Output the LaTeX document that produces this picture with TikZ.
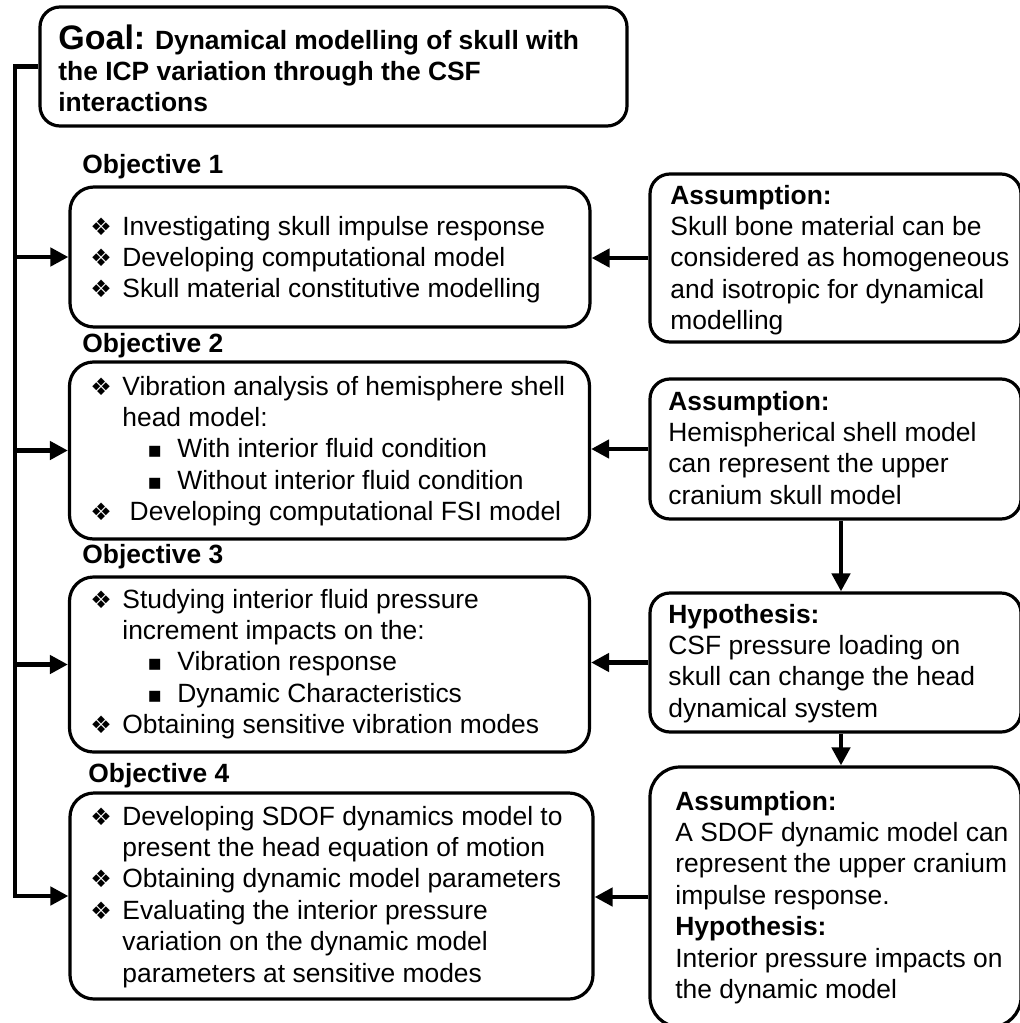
\documentclass[tikz,border=0pt]{standalone}
\usepackage{fontspec}
\setmainfont{Liberation Sans}
\newfontfamily\symfont{DejaVu Sans}
\usetikzlibrary{arrows.meta}

% bullets and line blocks
\newcommand{\dia}{\makebox[16pt][l]{\symfont\fontsize{12}{12}\selectfont ❖}}
\newcommand{\sqb}{\hspace*{28.5pt}\makebox[15pt][l]{\symfont\fontsize{11}{11}\selectfont ▪}}
\newcommand{\ind}{\hspace*{16pt}}
\newcommand{\lines}[1]{\begin{tabular}[t]{@{}l@{}}#1\end{tabular}}

\tikzset{
  box/.style={draw, line width=1.6pt, rounded corners=10pt, inner sep=0pt},
  obox/.style={box, rounded corners=12pt, minimum width=260pt},
  abox/.style={box, minimum width=185.5pt},
  txt/.style={anchor=base west, inner sep=0pt, font=\fontsize{13.2}{15.7}\selectfont},
  head/.style={txt, font=\bfseries\fontsize{13.2}{15.7}\selectfont},
  conn/.style={line width=2.4pt, -{Triangle[length=9pt,width=9pt]}},
}

\begin{document}
\begin{tikzpicture}[x=0.5pt, y=-0.5pt]
\useasboundingbox (0,0) rectangle (1020,1023);

% goal
\node[box, minimum width=293.5pt, minimum height=59.5pt] (goal) at (333.5,66.5) {};
\node[head] (goaltxt) at (58,49) {\lines{{\fontsize{17}{20}\selectfont Goal:} Dynamical modelling of skull with\\the ICP variation through the CSF\\interactions}};

% objectives
\node[head] (lab1) at (82,173) {Objective 1};
\node[obox, minimum height=70pt] (obj1) at (330,257) {};
\node[txt] (txt1) at (90,235) {\lines{\dia Investigating skull impulse response\\
\dia Developing computational model\\
\dia Skull material constitutive modelling}};

\node[head] (lab2) at (82,352) {Objective 2};
\node[obox, minimum height=88.5pt] (obj2) at (329.5,450.5) {};
\node[txt] (txt2) at (90,395) {\lines{\dia Vibration analysis of hemisphere shell\\
\ind head model:\\
\sqb With interior fluid condition\\
\sqb Without interior fluid condition\\
\dia\ Developing computational FSI model}};

\node[head] (lab3) at (82,563) {Objective 3};
\node[obox, minimum height=87.5pt] (obj3) at (329.5,664.5) {};
\node[txt] (txt3) at (90,608) {\lines{\dia Studying interior fluid pressure\\
\ind increment impacts on the:\\
\sqb Vibration response\\
\sqb Dynamic Characteristics\\
\dia Obtaining sensitive vibration modes}};

\node[head] (lab4) at (88,782) {Objective 4};
\node[obox, minimum width=261.5pt, minimum height=103pt] (obj4) at (331.5,896) {};
\node[txt] (txt4) at (90,825) {\lines{\dia Developing SDOF dynamics model to\\
\ind present the head equation of motion\\
\dia Obtaining dynamic model parameters\\
\dia Evaluating the interior pressure\\
\ind variation on the dynamic model\\
\ind parameters at sensitive modes}};

% assumptions and hypotheses
\node[abox, minimum height=84pt] (a1) at (835.5,258) {};
\node[txt] (a1txt) at (670,204) {\lines{\textbf{Assumption:}\\Skull bone material can be\\considered as homogeneous\\and isotropic for dynamical\\modelling}};

\node[abox, minimum height=70pt] (a2) at (835.5,449) {};
\node[txt] (a2txt) at (668,410) {\lines{\textbf{Assumption:}\\Hemispherical shell model\\can represent the upper\\cranium skull model}};

\node[abox, minimum height=69.5pt] (h3) at (835.5,662.5) {};
\node[txt] (h3txt) at (668,623) {\lines{\textbf{Hypothesis:}\\CSF pressure loading on\\skull can change the head\\dynamical system}};

\node[abox, rounded corners=15pt, minimum height=130pt] (a4) at (835.5,897) {};
\node[txt] (a4txt) at (675,810) {\lines{\textbf{Assumption:}\\A SDOF dynamic model can\\represent the upper cranium\\impulse response.\\\textbf{Hypothesis:}\\Interior pressure impacts on\\the dynamic model}};

% connectors
\coordinate (tk) at (15,0);
\coordinate (vx) at (841,0);
\draw[conn] (goal.west) -- (goal.west -| tk) |- (obj4.west);
\draw[conn] (obj1.west -| tk) -- (obj1.west);
\draw[conn] (obj2.west -| tk) -- (obj2.west);
\draw[conn] (obj3.west -| tk) -- (obj3.west);

\draw[conn] (a1.west) -- (a1.west -| obj1.east);
\draw[conn] (a2.west) -- (a2.west -| obj2.east);
\draw[conn] (h3.west) -- (h3.west -| obj3.east);
\draw[conn] (a4.west) -- (a4.west -| obj4.east);

\draw[conn] (a2.south -| vx) -- (h3.north -| vx);
\draw[conn] (h3.south -| vx) -- (a4.north -| vx);
\end{tikzpicture}
\end{document}
